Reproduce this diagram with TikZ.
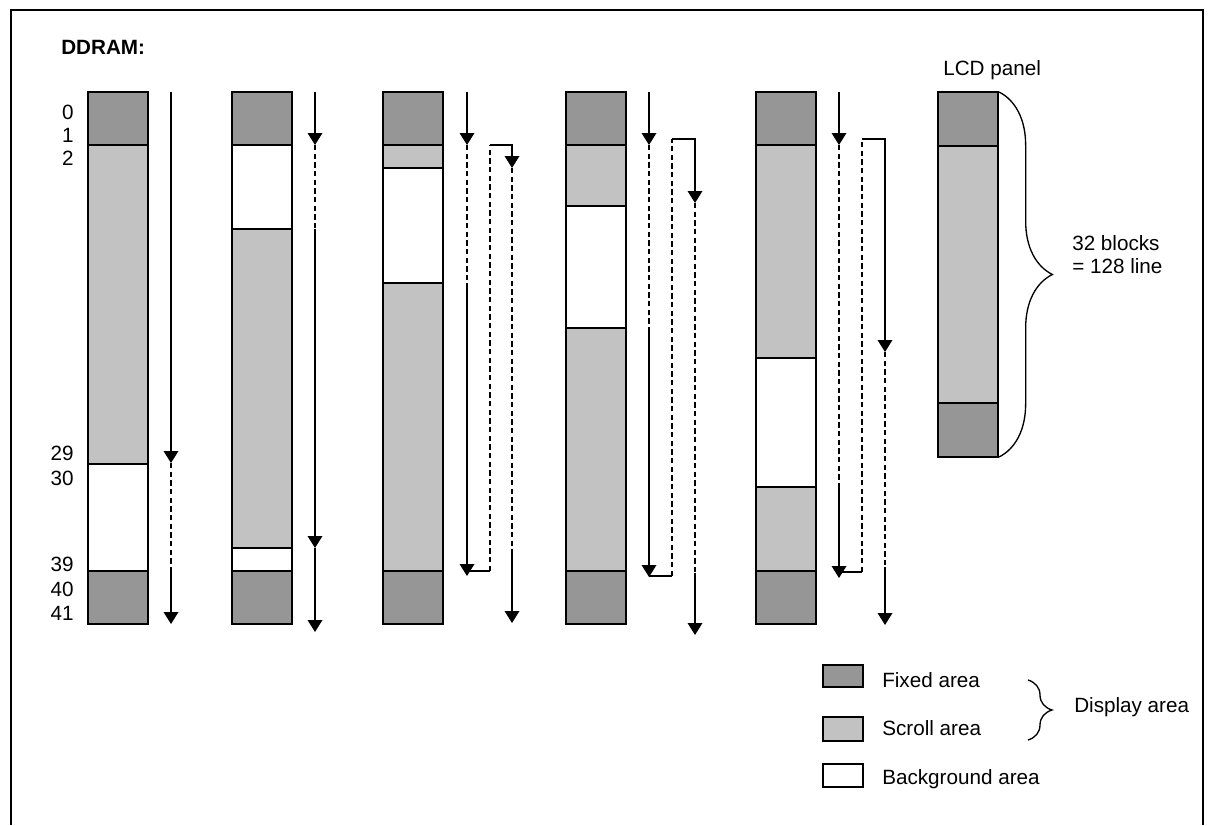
\documentclass[tikz,border=0pt]{standalone}
\usepackage{fontspec}
\setmainfont{Liberation Sans}
\usetikzlibrary{arrows.meta,decorations.pathreplacing}

\definecolor{fixgray}{gray}{0.59}
\definecolor{scrollgray}{gray}{0.76}

\newcommand{\ddcol}[2]{%
  \foreach \ya/\yb/\fc in {#2}
    \draw[area,fill=\fc] (#1,\ya) rectangle (#1+60,\yb);}

\begin{document}
\begin{tikzpicture}[x=0.75pt,y=-0.75pt,
    font=\fontsize{15.5}{18}\selectfont,
    area/.style={draw,line width=1.5pt},
    flow/.style={line width=1pt},
    tip/.style={-{Triangle[width=11pt,length=9pt]}},
    dashln/.style={line width=1pt,dash pattern=on 4pt off 2.5pt},
    lbl/.style={inner sep=0pt,anchor=base west},
    brc/.style={decorate,line width=1pt}]
  \useasboundingbox (0,0) rectangle (1214,825);
  \draw[line width=1.5pt] (11,825) -- (11,10) -- (1203,10) -- (1203,825);

  \node[lbl,font=\fontsize{15.5}{18}\selectfont\bfseries] (ddram) at (61,54) {DDRAM:};
  \foreach \n/\y in {0/119,1/142,2/165,29/460,30/485,39/571,40/596,41/620}
    \node[inner sep=0pt,anchor=base east] (r\n) at (74,\y) {\n};

  \ddcol{88}{92/145/fixgray,145/464/scrollgray,464/571/white,571/624/fixgray}
  \ddcol{232}{92/145/fixgray,145/229/white,229/548/scrollgray,548/571/white,571/624/fixgray}
  \ddcol{383}{92/145/fixgray,145/168/scrollgray,168/283/white,283/571/scrollgray,571/624/fixgray}
  \ddcol{566}{92/145/fixgray,145/206/scrollgray,206/328/white,328/571/scrollgray,571/624/fixgray}
  \ddcol{756}{92/145/fixgray,145/358/scrollgray,358/487/white,487/571/scrollgray,571/624/fixgray}
  \ddcol{938}{92/146/fixgray,146/403/scrollgray,403/457/fixgray}

  \draw[flow,tip] (171,92) -- (171,463);
  \draw[dashln] (171,463) -- (171,567);
  \draw[flow,tip] (171,567) -- (171,624);

  \draw[flow,tip] (315,92) -- (315,145);
  \draw[dashln] (315,145) -- (315,229);
  \draw[flow,tip] (315,229) -- (315,548);
  \draw[flow,tip] (315,548) -- (315,632);

  \draw[flow,tip] (467,92) -- (467,145);
  \draw[dashln] (467,145) -- (467,283);
  \draw[flow,tip] (467,283) -- (467,576);
  \draw[flow] (467,571) -- (490,571);
  \draw[dashln] (490,571) -- (490,145);
  \draw[flow,tip] (490,145) -- (512,145) -- (512,168);
  \draw[dashln] (512,168) -- (512,553);
  \draw[flow,tip] (512,553) -- (512,623);

  \draw[flow,tip] (649,92) -- (649,145);
  \draw[dashln] (649,145) -- (649,328);
  \draw[flow,tip] (649,328) -- (649,577);
  \draw[flow] (649,576) -- (672,576);
  \draw[dashln] (672,576) -- (672,139);
  \draw[flow,tip] (672,139) -- (695,139) -- (695,203);
  \draw[dashln] (695,203) -- (695,573);
  \draw[flow,tip] (695,573) -- (695,635);

  \draw[flow,tip] (839,92) -- (839,145);
  \draw[dashln] (839,145) -- (839,488);
  \draw[flow,tip] (839,488) -- (839,578);
  \draw[flow] (839,572) -- (862,572);
  \draw[dashln] (862,572) -- (862,139);
  \draw[flow,tip] (862,139) -- (885,139) -- (885,352);
  \draw[dashln] (885,352) -- (885,567);
  \draw[flow,tip] (885,567) -- (885,625);

  \node[lbl] (lcd) at (943,75) {LCD panel};
  \draw[brc,decoration={brace,amplitude=40pt}] (999,92) -- (999,457);
  \node[lbl] (blk) at (1072,250) {32 blocks};
  \node[lbl] (lines) at (1072,273) {= 128 line};

  \draw[area,line width=1.2pt,fill=fixgray] (823,665) rectangle (863,687);
  \draw[area,line width=1.2pt,fill=scrollgray] (823,717) rectangle (863,741);
  \draw[area,line width=1.2pt,fill=white] (823,764) rectangle (863,787);
  \node[lbl] (fix) at (882,687) {Fixed area};
  \node[lbl] (scr) at (882,735) {Scroll area};
  \node[lbl] (bkg) at (882,784) {Background area};
  \draw[brc,decoration={brace,amplitude=18pt}] (1028,680) -- (1028,740);
  \node[lbl] (disp) at (1074,712) {Display area};
\end{tikzpicture}
\end{document}
